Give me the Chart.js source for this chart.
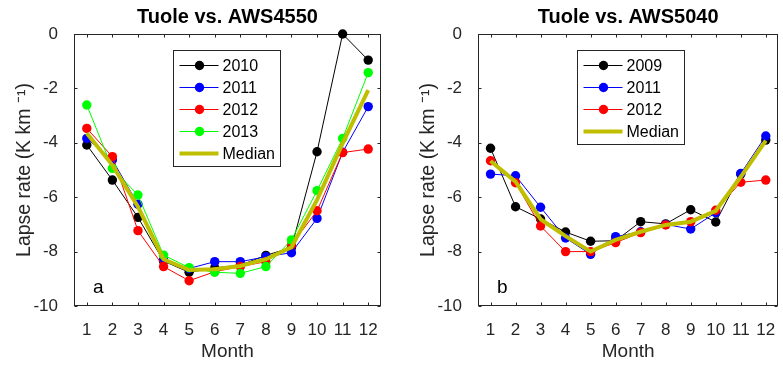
<!DOCTYPE html>
<html>
<head>
<meta charset="utf-8">
<title>Lapse rate by month</title>
<script src="https://cdn.jsdelivr.net/npm/chart.js@4.4.0/dist/chart.umd.min.js"></script>
<style>
  html, body { margin: 0; padding: 0; background: #fff; overflow: hidden; }
  #wrap { position: relative; width: 783px; height: 366px; }
  canvas { position: absolute; top: 0; }
  #chartA { left: 0; }
  #chartB { left: 404px; }
</style>
</head>
<body>
<div id="wrap">
  <canvas id="chartA" width="400" height="366"></canvas>
  <canvas id="chartB" width="379" height="366"></canvas>
</div>
<script>
// x categories and y ticks
const months = ['1', '2', '3', '4', '5', '6', '7', '8', '9', '10', '11', '12'];
const yTickValues = [0, -2, -4, -6, -8, -10];

// Panel a: Tuole vs. AWS4550
const yearsA = ['2010', '2011', '2012', '2013'];
const rateA2010 = [-4.08, -5.37, -6.74, -8.35, -8.76, -8.6, -8.5, -8.14, -7.85, -4.33, 0, -0.96];
const rateA2011 = [-3.84, -4.63, -6.26, -8.3, -8.62, -8.37, -8.37, -8.19, -8.04, -6.78, -4.35, -2.67];
const rateA2012 = [-3.47, -4.51, -7.23, -8.55, -9.07, -8.74, -8.55, -8.37, -7.75, -6.5, -4.36, -4.23];
const rateA2013 = [-2.61, -4.94, -5.92, -8.13, -8.59, -8.76, -8.8, -8.55, -7.57, -5.76, -3.84, -1.42];
const medianA = [-3.65, -4.82, -6.35, -8.28, -8.68, -8.65, -8.53, -8.28, -7.84, -6.1, -4.02, -2.06];

// Panel b: Tuole vs. AWS5040
const yearsB = ['2009', '2011', '2012'];
const rateB2009 = [-4.2, -6.35, -6.8, -7.28, -7.62, -7.6, -6.9, -6.98, -6.46, -6.91, -5.15, -3.9];
const rateB2011 = [-5.15, -5.21, -6.37, -7.5, -8.1, -7.45, -7.27, -7.0, -7.17, -6.57, -5.13, -3.75];
const rateB2012 = [-4.66, -5.47, -7.06, -8.0, -8.0, -7.67, -7.3, -7.02, -6.9, -6.48, -5.45, -5.37];
const medianB = [-4.67, -5.43, -6.81, -7.43, -8.0, -7.57, -7.27, -7.02, -6.9, -6.5, -5.25, -3.92];

const axisColor = '#262626';
const fontFamily = '"Liberation Sans", Arial, sans-serif';

const lineSet = (label, data, color, order) => ({
    label, data, order,
    borderColor: color,
    backgroundColor: color,
    borderWidth: 1,
    pointRadius: 4.7,
    pointHoverRadius: 4.7,
    pointBorderWidth: 0,
    pointBackgroundColor: color,
    tension: 0,
    clip: false
});

const medianSet = (data) => ({
    label: 'Median', data, order: 0,
    borderColor: '#bfbf00',
    backgroundColor: '#bfbf00',
    borderWidth: 4,
    pointRadius: 0,
    tension: 0,
    clip: false,
    isMedian: true
});

// box, inward ticks, panel letter and legend (MATLAB look)
const framePlugin = {
    id: 'frame',
    beforeDatasetsDraw(chart) {
        const { ctx, chartArea: a, scales: { x, y } } = chart;
        ctx.save();
        ctx.strokeStyle = axisColor;
        ctx.lineWidth = 1;
        const l = Math.round(a.left) + 0.5, r = Math.round(a.right) - 0.5;
        const t = Math.round(a.top) + 0.5, b = Math.round(a.bottom) - 0.5;
        ctx.strokeRect(l, t, r - l, b - t);
        ctx.beginPath();
        x.ticks.forEach((tk, i) => {
            const px = Math.round(x.getPixelForTick(i)) + 0.5;
            ctx.moveTo(px, b); ctx.lineTo(px, b - 3);
            ctx.moveTo(px, t); ctx.lineTo(px, t + 3);
        });
        y.ticks.forEach((tk, i) => {
            const py = Math.round(y.getPixelForTick(i)) + 0.5;
            ctx.moveTo(l, py); ctx.lineTo(l + 3, py);
            ctx.moveTo(r, py); ctx.lineTo(r - 3, py);
        });
        ctx.stroke();
        ctx.restore();
    },
    afterDatasetsDraw(chart, args, opts) {
        const { ctx } = chart;
        ctx.save();
        // panel letter
        ctx.fillStyle = '#000';
        ctx.font = '19px ' + fontFamily;
        ctx.textAlign = 'left';
        ctx.textBaseline = 'alphabetic';
        ctx.fillText(opts.letter, 93, 293);

        // legend
        const sets = chart.data.datasets;
        const x0 = 173.5, y0 = 50.5, w = 107, rowH = 22;
        const h = sets.length * rowH + 6;
        ctx.fillStyle = '#fff';
        ctx.fillRect(x0, y0, w, h);
        ctx.strokeStyle = axisColor;
        ctx.lineWidth = 1;
        ctx.strokeRect(x0, y0, w, h);
        ctx.font = '16px ' + fontFamily;
        ctx.textBaseline = 'middle';
        sets.forEach((ds, i) => {
            const cy = Math.round(y0 + 14.5 + i * rowH) + 0.5;
            ctx.strokeStyle = ds.borderColor;
            ctx.lineWidth = ds.borderWidth;
            ctx.beginPath();
            ctx.moveTo(x0 + 6, cy);
            ctx.lineTo(x0 + 45, cy);
            ctx.stroke();
            if (!ds.isMedian) {
                ctx.fillStyle = ds.borderColor;
                ctx.beginPath();
                ctx.arc(x0 + 26, cy, 4.7, 0, Math.PI * 2);
                ctx.fill();
            }
            ctx.fillStyle = '#000';
            ctx.fillText(ds.label, x0 + 49, cy + 1);
        });
        ctx.restore();
    }
};

const makeChart = (id, title, letter, datasets, padRight) => new Chart(document.getElementById(id), {
    type: 'line',
    data: { labels: months, datasets },
    options: {
        responsive: false,
        animation: false,
        events: [],
        layout: { padding: { top: 0, right: padRight, bottom: 0, left: 0 } },
        plugins: {
            legend: { display: false },
            tooltip: { enabled: false },
            title: {
                display: true,
                text: title,
                fullSize: false,
                color: '#000',
                font: { family: fontFamily, size: 20, weight: 'bold' },
                padding: { top: 5.5, bottom: 4.5 }
            },
            frame: { letter }
        },
        scales: {
            x: {
                type: 'category',
                offset: true,
                grid: { display: false },
                border: { display: false },
                ticks: { color: axisColor, padding: 6, font: { family: fontFamily, size: 17 }, maxRotation: 0, autoSkip: false },
                title: {
                    display: true, text: 'Month', color: axisColor,
                    font: { family: fontFamily, size: 19 },
                    padding: { top: 0, bottom: 2.6 }
                },
                afterFit: (s) => { s.height = 60; }
            },
            y: {
                min: -10,
                max: 0,
                grid: { display: false },
                border: { display: false },
                ticks: { color: axisColor, padding: 8, font: { family: fontFamily, size: 17 } },
                afterBuildTicks: (s) => { s.ticks = yTickValues.map(v => ({ value: v })); },
                title: {
                    display: true, text: 'Lapse rate (K km \u207B\u00B9)', color: axisColor,
                    font: { family: fontFamily, size: 19.5 },
                    padding: { top: 13.3, bottom: 0 }
                },
                afterFit: (s) => { s.width = 74; }
            }
        }
    },
    plugins: [framePlugin]
});

makeChart('chartA', 'Tuole vs. AWS4550', 'a', [
    lineSet(yearsA[0], rateA2010, '#000000', 4),
    lineSet(yearsA[1], rateA2011, '#0000ff', 3),
    lineSet(yearsA[2], rateA2012, '#ff0000', 2),
    lineSet(yearsA[3], rateA2013, '#00ff00', 1),
    medianSet(medianA)
], 19);

makeChart('chartB', 'Tuole vs. AWS5040', 'b', [
    lineSet(yearsB[0], rateB2009, '#000000', 3),
    lineSet(yearsB[1], rateB2011, '#0000ff', 2),
    lineSet(yearsB[2], rateB2012, '#ff0000', 1),
    medianSet(medianB)
], 1);
</script>
</body>
</html>
